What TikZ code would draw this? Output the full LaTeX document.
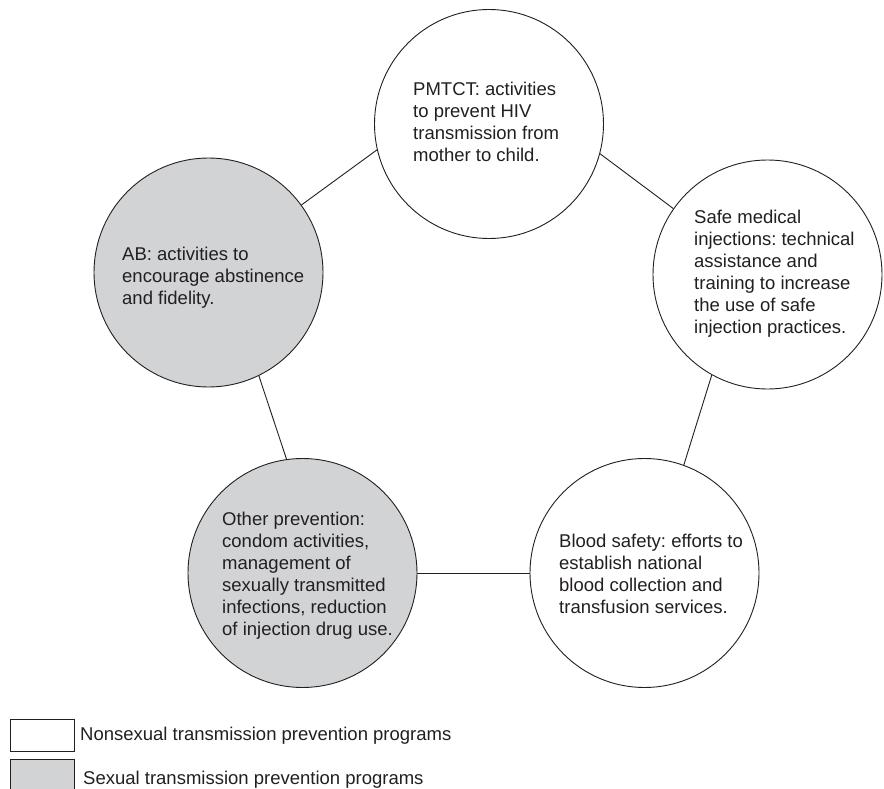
\documentclass[tikz,border=0pt]{standalone}
\usepackage{fontspec}
\setmainfont{Liberation Sans}
\frenchspacing
\definecolor{sgray}{RGB}{209,211,212}
\definecolor{ink}{RGB}{35,31,32}
\begin{document}
\begin{tikzpicture}[x=1pt,y=-1pt,
  prog/.style={circle, draw=ink, line width=0.9pt, minimum size=229pt, inner sep=0pt},
  sexual/.style={prog, fill=sgray},
  nonsexual/.style={prog, fill=white},
  txt/.style={anchor=west, align=left, inner sep=0pt, text=ink, font=\fontsize{18.5}{22}\selectfont\frenchspacing},
  link/.style={draw=ink, line width=0.9pt},
  keybox/.style={draw=ink, line width=0.9pt, minimum width=64pt, minimum height=32pt, inner sep=0pt, anchor=north west}]
\useasboundingbox (0,0) rectangle (884,789);
% programme circles
\node[nonsexual] (pmtct) at (489,124) {};
\node[nonsexual] (safe) at (767.5,274.5) {};
\node[nonsexual] (blood) at (644.5,573) {};
\node[sexual] (other) at (302.5,573) {};
\node[sexual] (ab) at (208.5,272.5) {};
% texts
\node[txt] (tpmtct) at (413,122) {PMTCT: activities\\to prevent HIV\\transmission from\\mother to child.};
\node[txt] (tsafe) at (694,274) {Safe medical\\injections: technical\\assistance and\\training to increase\\the use of safe\\injection practices.};
\node[txt] (tblood) at (559,573.5) {Blood safety: efforts to\\establish national\\blood collection and\\transfusion services.};
\node[txt] (tother) at (222,576) {Other prevention:\\condom activities,\\management of\\sexually transmitted\\infections, reduction\\of injection drug use.};
\node[txt] (tab) at (122,277.5) {AB: activities to\\encourage abstinence\\and fidelity.};
% connectors
\draw[link] (pmtct.193) -- (ab.36);
\draw[link] (pmtct.345) -- (safe.145);
\draw[link] (ab.296) -- (other.98);
\draw[link] (safe.241) -- (blood.70);
\draw[link] (other.east) -- (blood.west);
% legend
\node[keybox, fill=white] (k1) at (10,719) {};
\node[keybox, fill=sgray] (k2) at (10,759) {};
\node[txt] (l1) at (80,736) {Nonsexual transmission prevention programs};
\node[txt] (l2) at (83,780) {Sexual transmission prevention programs};
\end{tikzpicture}
\end{document}
